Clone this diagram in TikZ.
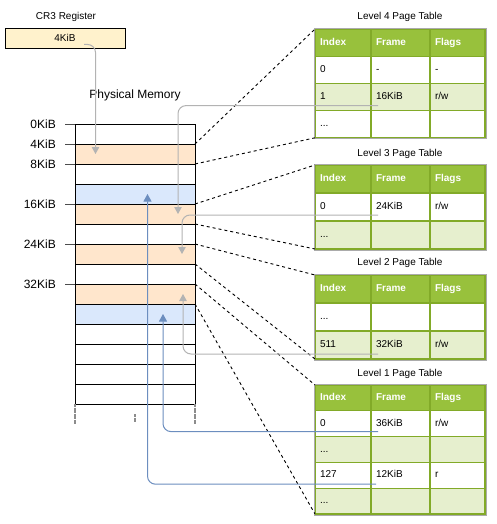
\documentclass[tikz,border=0pt]{standalone}
\usepackage{fontspec}
\setmainfont{Liberation Sans}
\usetikzlibrary{arrows.meta}
\definecolor{orangeF}{HTML}{FFE6CC}
\definecolor{blueF}{HTML}{DAE8FC}
\definecolor{yellowF}{HTML}{FFF2CC}
\definecolor{grayArr}{HTML}{B3B3B3}
\definecolor{blueArr}{HTML}{6C8EBF}
\definecolor{hdrG}{HTML}{98C13C}
\definecolor{lightG}{HTML}{E6EFCE}
\definecolor{borderG}{HTML}{82AA28}
\definecolor{outerGray}{HTML}{ABABAB}
\tikzset{
  memcell/.style={draw=black, line width=0.9pt, anchor=north west, minimum width=120pt, minimum height=20pt, inner sep=0pt, outer sep=0pt},
  memlabel/.style={anchor=east, inner sep=0pt, font=\fontsize{12}{14}\selectfont},
  tickline/.style={draw=black!70, line width=0.8pt},
  dashline/.style={draw=black, line width=0.9pt, dash pattern=on 3pt off 3pt},
  dotgray/.style={draw=black!45, line width=1.2pt, dash pattern=on 0.6pt off 0.6pt},
  grayarrow/.style={draw=grayArr, line width=1pt, rounded corners=8pt, -{Triangle[width=7.5pt,length=7pt]}},
  bluearrow/.style={draw=blueArr, line width=1pt, rounded corners=8pt, -{Triangle[width=8pt,length=7.5pt]}},
  ptcell/.style={draw=borderG, line width=1.2pt, anchor=north west, inner xsep=5pt, inner ysep=0pt, outer sep=0pt, align=left, text height=7.4pt, text depth=2.2pt, font=\fontsize{10}{12}\selectfont},
  hdr/.style={text=white, font=\fontsize{10}{12}\selectfont\bfseries},
  plain/.style={},
  ttl/.style={font=\fontsize{10}{12}\selectfont, inner sep=0pt},
  outerbox/.style={draw=outerGray, line width=0.8pt}
}
\newcommand\ptrow[9]{%
  \node[ptcell,fill=#5,text width=46pt,minimum height=#4pt,#6] (#1-#2-1) at (315,#3) {#7};
  \node[ptcell,fill=#5,text width=49pt,minimum height=#4pt,#6] (#1-#2-2) at (371,#3) {#8};
  \node[ptcell,fill=#5,text width=45pt,minimum height=#4pt,#6] (#1-#2-3) at (430,#3) {#9};
}
\begin{document}
\begin{tikzpicture}[x=1pt,y=-1pt]
\useasboundingbox (0,0) rectangle (496,524);

% CR3 register
\node[ttl] (cr3title) at (66,17) {CR3 Register};
\node[draw=black, line width=0.9pt, fill=yellowF, minimum width=120pt, minimum height=20pt, inner sep=0pt, font=\fontsize{10}{12}\selectfont] (cr3) at (65,38) {4KiB};

% Physical memory
\node[font=\fontsize{12}{14}\selectfont, inner sep=0pt] (pmtitle) at (135,95) {Physical Memory};
\foreach \i/\f in {0/white,1/orangeF,2/white,3/blueF,4/orangeF,5/white,6/orangeF,7/white,8/orangeF,9/blueF,10/white,11/white,12/white,13/white}
  \node[memcell, fill=\f] (m\i) at (75,{124+20*\i}) {};

\foreach \i/\y/\t in {0/124/0KiB,1/144/4KiB,2/164/8KiB,4/204/16KiB,6/244/24KiB,8/284/32KiB}{
  \node[memlabel] (lab\i) at (56,\y) {\t};
  \coordinate (tk\i) at (65,\y);
  \draw[tickline] (tk\i) -- (m\i.north west);
}

% dotted continuation
\draw[dotgray] (m13.south west) -- ++(0,20);
\draw[dotgray] (m13.south east) -- ++(0,20);
\draw[dotgray] ([yshift=-10pt]m13.south) -- ++(0,8);

% Page tables
\node[ttl] (ttl4) at (400,17) {Level 4 Page Table};
\ptrow{t4}{0}{29}{27.2}{hdrG}{hdr}{Index}{Frame}{Flags}
\ptrow{t4}{1}{56.2}{27.2}{white}{plain}{0}{-}{-}
\ptrow{t4}{2}{83.4}{27.2}{lightG}{plain}{1}{16KiB}{r/w}
\ptrow{t4}{3}{110.6}{27.2}{white}{plain}{...}{}{}
\draw[outerbox] ([shift={(-0.9pt,0.9pt)}]t4-0-1.north west) rectangle ([shift={(0.9pt,-0.9pt)}]t4-3-3.south east);

\node[ttl] (ttl3) at (400,154) {Level 3 Page Table};
\ptrow{t3}{0}{165}{28}{hdrG}{hdr}{Index}{Frame}{Flags}
\ptrow{t3}{1}{193}{28}{white}{plain}{0}{24KiB}{r/w}
\ptrow{t3}{2}{221}{28}{lightG}{plain}{...}{}{}
\draw[outerbox] ([shift={(-0.9pt,0.9pt)}]t3-0-1.north west) rectangle ([shift={(0.9pt,-0.9pt)}]t3-2-3.south east);

\node[ttl] (ttl2) at (400,263) {Level 2 Page Table};
\ptrow{t2}{0}{275}{28}{hdrG}{hdr}{Index}{Frame}{Flags}
\ptrow{t2}{1}{303}{28}{white}{plain}{...}{}{}
\ptrow{t2}{2}{331}{28}{lightG}{plain}{511}{32KiB}{r/w}
\draw[outerbox] ([shift={(-0.9pt,0.9pt)}]t2-0-1.north west) rectangle ([shift={(0.9pt,-0.9pt)}]t2-2-3.south east);

\node[ttl] (ttl1) at (400,374) {Level 1 Page Table};
\ptrow{t1}{0}{385}{25.8}{hdrG}{hdr}{Index}{Frame}{Flags}
\ptrow{t1}{1}{410.8}{25.8}{white}{plain}{0}{36KiB}{r/w}
\ptrow{t1}{2}{436.6}{25.8}{lightG}{plain}{...}{}{}
\ptrow{t1}{3}{462.4}{25.8}{white}{plain}{127}{12KiB}{r}
\ptrow{t1}{4}{488.2}{25.8}{lightG}{plain}{...}{}{}
\draw[outerbox] ([shift={(-0.9pt,0.9pt)}]t1-0-1.north west) rectangle ([shift={(0.9pt,-0.9pt)}]t1-4-3.south east);

% dashed projection lines
\draw[dashline] (m1.north east) -- (t4-0-1.north west);
\draw[dashline] (m1.south east) -- (t4-3-1.south west);
\draw[dashline] (m4.north east) -- (t3-0-1.north west);
\draw[dashline] (m4.south east) -- (t3-2-1.south west);
\draw[dashline] (m6.north east) -- (t2-0-1.north west);
\draw[dashline] (m6.south east) -- (t2-2-1.south west);
\draw[dashline] (m8.north east) -- (t1-0-1.north west);
\draw[dashline] (m8.south east) -- (t1-4-1.south west);

% arrows
\coordinate (s0) at ([xshift=19pt,yshift=4pt]cr3.south);
\coordinate (s4) at ([xshift=7pt,yshift=5pt]t4-2-2.south west);
\coordinate (s3) at ([xshift=7pt,yshift=6pt]t3-1-2.south west);
\coordinate (s2) at ([xshift=7pt,yshift=5pt]t2-2-2.south west);
\coordinate (s1a) at ([xshift=7pt,yshift=5pt]t1-1-2.south west);
\coordinate (s1b) at ([xshift=5pt,yshift=4pt]t1-3-2.south west);
\draw[grayarrow] (s0) -| ([xshift=-39.5pt]m1.center);
\draw[grayarrow] (s4) -| ([xshift=43pt]m4.center);
\draw[grayarrow] (s3) -| ([xshift=47pt]m6.center);
\draw[grayarrow] (s2) -| ([xshift=48pt]m8.center);
\draw[bluearrow] (s1a) -| ([xshift=28pt]m9.center);
\draw[bluearrow] (s1b) -| ([xshift=12.5pt]m3.center);
\end{tikzpicture}
\end{document}
